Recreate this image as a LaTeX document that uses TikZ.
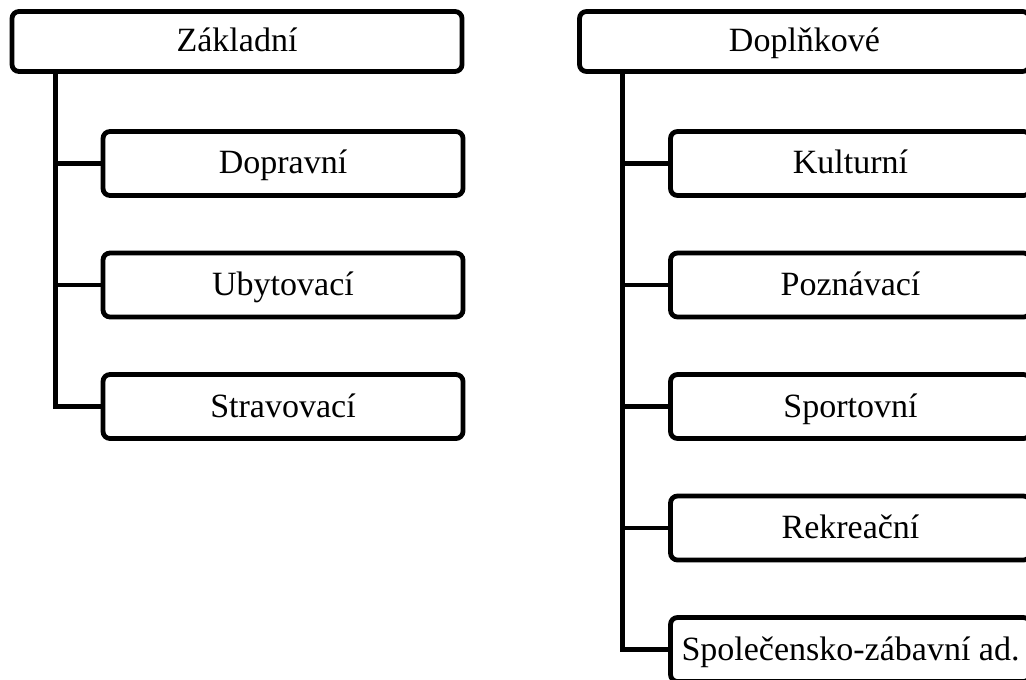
\documentclass[tikz,border=0pt]{standalone}
\usepackage{fontspec}
\setmainfont{Liberation Serif}
\usetikzlibrary{calc}

\begin{document}
\begin{tikzpicture}[
    x=0.5pt, y=-0.5pt,
    box/.style={draw, line width=2.4pt, rounded corners=3.5pt, minimum height=32pt, inner sep=0pt,
        text height=14pt, text depth=3.5pt, font=\fontsize{17}{20}\selectfont},
    head/.style={box, minimum width=225pt, minimum height=30pt},
    item/.style={box, minimum width=180pt},
    link/.style={line width=2.4pt}
]
\useasboundingbox (0,0) rectangle (1026,679);
\clip (0,0) rectangle (1026,679);

% Basic services
\node[head] (zak) at (237,41.5) {Základní};
\node[item] (dop) at (283,163.5) {Dopravní};
\node[item] (uby) at (283,285) {Ubytovací};
\node[item] (str) at (283,406.5) {Stravovací};

\coordinate (zakT) at ($(zak.south west)+(45.5,0)$);
\draw[link] (zakT) |- (str.west);
\foreach \n in {dop,uby}
    \draw[link] (\n.west -| zakT) -- (\n.west);

% Additional services
\node[head] (dpl) at (804.5,41.5) {Doplňkové};
\node[item] (kul) at (850.5,163.5) {Kulturní};
\node[item] (poz) at (850.5,285) {Poznávací};
\node[item] (spo) at (850.5,406.5) {Sportovní};
\node[item] (rek) at (850.5,528) {Rekreační};
\node[item] (spz) at (850.5,649.5) {Společensko-zábavní ad.};

\coordinate (dplT) at ($(dpl.south west)+(45,0)$);
\draw[link] (dplT) |- (spz.west);
\foreach \n in {kul,poz,spo,rek}
    \draw[link] (\n.west -| dplT) -- (\n.west);

\end{tikzpicture}
\end{document}
